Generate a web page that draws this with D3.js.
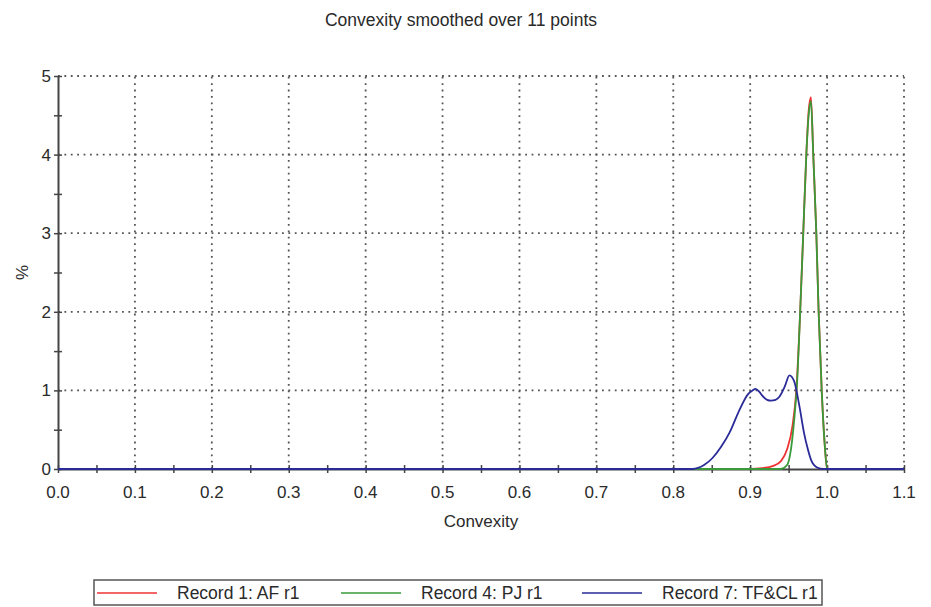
<!DOCTYPE html>
<html>
<head>
<meta charset="utf-8">
<script src="https://cdn.jsdelivr.net/npm/d3@7"></script>
<style>
  body { margin: 0; background: #fff; }
  svg text { font-family: "Liberation Sans", Arial, sans-serif; fill: #2a2a2a; }
</style>
</head>
<body>
<script>
// tick values
var xTicks = [0.0, 0.1, 0.2, 0.3, 0.4, 0.5, 0.6, 0.7, 0.8, 0.9, 1.0, 1.1];
var yTicks = [0, 1, 2, 3, 4, 5];

// convexity (x) and % (y)
var recordAfX = [0.0, 0.90, 0.915, 0.93, 0.94, 0.948, 0.955, 0.96, 0.965, 0.969, 0.973, 0.976, 0.979, 0.982, 0.986, 0.989, 0.993, 0.997, 1.0, 1.1];
var recordAfY = [0, 0, 0.01, 0.04, 0.1, 0.25, 0.55, 1.0, 2.0, 3.0, 4.0, 4.55, 4.73, 4.0, 3.0, 2.0, 1.0, 0.3, 0, 0];

var recordPjX = [0.0, 0.94, 0.948, 0.953, 0.957, 0.961, 0.965, 0.969, 0.973, 0.976, 0.979, 0.982, 0.986, 0.989, 0.993, 0.997, 1.0, 1.1];
var recordPjY = [0, 0, 0.05, 0.25, 0.6, 1.1, 2.0, 3.0, 4.0, 4.5, 4.68, 4.0, 3.0, 2.0, 1.0, 0.3, 0, 0];

var recordTfX = [0.0, 0.825, 0.84, 0.851, 0.862, 0.873, 0.886, 0.897, 0.903, 0.907, 0.912, 0.916, 0.922, 0.927, 0.933, 0.938, 0.945, 0.951, 0.957, 0.964, 0.970, 0.975, 0.979, 0.987, 0.995, 1.1];
var recordTfY = [0, 0, 0.05, 0.14, 0.28, 0.46, 0.75, 0.95, 1.0, 1.02, 0.98, 0.93, 0.88, 0.87, 0.88, 0.92, 1.05, 1.19, 1.12, 0.8, 0.46, 0.25, 0.12, 0.02, 0, 0];

var seriesNames = ["Record 1: AF r1", "Record 4: PJ r1", "Record 7: TF&CL r1"];
var seriesColors = ["#ee3333", "#3a9a3a", "#2a2a99"];

var W = 931, H = 607;
var margin = { left: 58, top: 76, right: 27, bottom: 138 };

var svg = d3.select("body").append("svg")
  .attr("width", W)
  .attr("height", H);

var x = d3.scaleLinear().domain([0, 1.1]).range([margin.left, W - margin.right]);
var y = d3.scaleLinear().domain([0, 5]).range([H - margin.bottom, margin.top]);

// dotted grid
svg.append("g").selectAll("line.vg")
  .data(xTicks.slice(1))
  .enter().append("line")
  .attr("x1", function(d) { return x(d); })
  .attr("x2", function(d) { return x(d); })
  .attr("y1", y(0))
  .attr("y2", y(5))
  .attr("stroke", "#555")
  .attr("stroke-width", 1.8)
  .attr("stroke-dasharray", "1.8,4.6");

svg.append("g").selectAll("line.hg")
  .data(yTicks.slice(1))
  .enter().append("line")
  .attr("x1", x(0))
  .attr("x2", x(1.1))
  .attr("y1", function(d) { return y(d); })
  .attr("y2", function(d) { return y(d); })
  .attr("stroke", "#555")
  .attr("stroke-width", 1.8)
  .attr("stroke-dasharray", "1.8,4.6");

// axes
var xAxis = d3.axisBottom(x)
  .tickValues(d3.range(0, 1.1001, 0.05))
  .tickSize(0)
  .tickFormat("");
var gx = svg.append("g")
  .attr("transform", "translate(0," + y(0) + ")")
  .call(xAxis);
gx.select(".domain").attr("stroke", "#444").attr("stroke-width", 2);
gx.selectAll(".tick line")
  .attr("y1", -4).attr("y2", 4)
  .attr("stroke", "#444").attr("stroke-width", 1.5);

var yAxis = d3.axisLeft(y)
  .tickValues(d3.range(0, 5.001, 0.5))
  .tickSize(0)
  .tickFormat("");
var gy = svg.append("g")
  .attr("transform", "translate(" + x(0) + ",0)")
  .call(yAxis);
gy.select(".domain").attr("stroke", "#444").attr("stroke-width", 2);
gy.selectAll(".tick line")
  .attr("x1", -4).attr("x2", 4)
  .attr("stroke", "#444").attr("stroke-width", 1.5);

// tick labels
svg.append("g").selectAll("text")
  .data(xTicks)
  .enter().append("text")
  .attr("x", function(d) { return x(d); })
  .attr("y", y(0) + 29)
  .attr("text-anchor", "middle")
  .attr("font-size", 17)
  .text(function(d) { return d3.format(".1f")(d); });

svg.append("g").selectAll("text")
  .data(yTicks)
  .enter().append("text")
  .attr("x", x(0) - 7)
  .attr("y", function(d) { return y(d) + 6; })
  .attr("text-anchor", "end")
  .attr("font-size", 17)
  .text(function(d) { return d; });

// curves
var line = d3.line()
  .x(function(d) { return x(d[0]); })
  .y(function(d) { return y(d[1]); })
  .curve(d3.curveMonotoneX);

var series = [
  d3.zip(recordAfX, recordAfY),
  d3.zip(recordPjX, recordPjY),
  d3.zip(recordTfX, recordTfY)
];

series.forEach(function(s, i) {
  svg.append("path")
    .datum(s)
    .attr("fill", "none")
    .attr("stroke", seriesColors[i])
    .attr("stroke-width", 1.8)
    .attr("d", line);
});

// titles
svg.append("text")
  .attr("x", 461)
  .attr("y", 26)
  .attr("text-anchor", "middle")
  .attr("font-size", 17.5)
  .text("Convexity smoothed over 11 points");

svg.append("text")
  .attr("x", (x(0) + x(1.1)) / 2)
  .attr("y", 527)
  .attr("text-anchor", "middle")
  .attr("font-size", 17)
  .text("Convexity");

svg.append("text")
  .attr("transform", "translate(28," + y(2.5) + ") rotate(-90)")
  .attr("text-anchor", "middle")
  .attr("font-size", 17)
  .text("%");

// legend
var legend = svg.append("g");
legend.append("rect")
  .attr("x", 94).attr("y", 580)
  .attr("width", 728).attr("height", 25)
  .attr("fill", "none")
  .attr("stroke", "#555")
  .attr("stroke-width", 1.5);

var legendX = [97, 341, 582];
seriesNames.forEach(function(name, i) {
  legend.append("line")
    .attr("x1", legendX[i]).attr("x2", legendX[i] + 60)
    .attr("y1", 593).attr("y2", 593)
    .attr("stroke", seriesColors[i])
    .attr("stroke-width", 1.6);
  legend.append("text")
    .attr("x", legendX[i] + 80)
    .attr("y", 599)
    .attr("font-size", 17.5)
    .text(name);
});
</script>
</body>
</html>
